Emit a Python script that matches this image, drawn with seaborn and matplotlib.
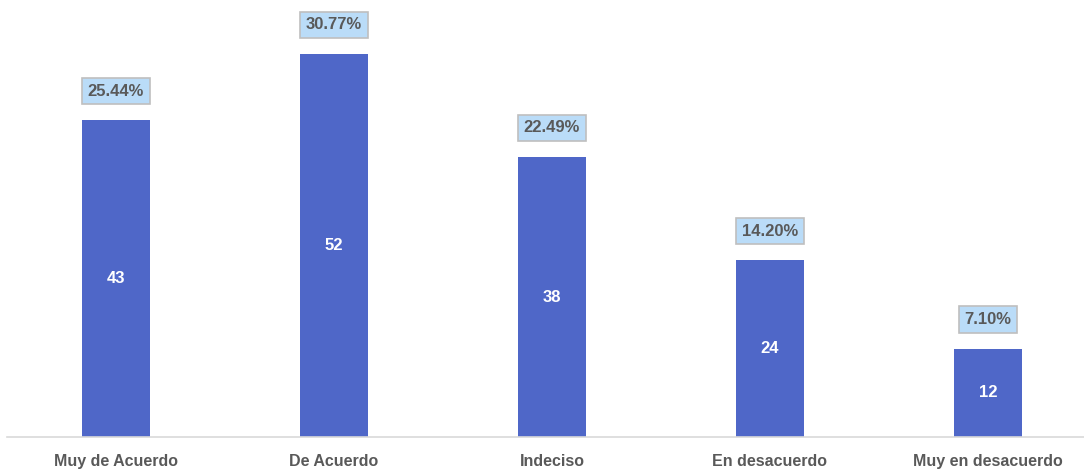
import matplotlib
matplotlib.use("Agg")
import matplotlib.pyplot as plt
import seaborn as sns
import pandas as pd

# === DANE ===
categorias = ["Muy de Acuerdo", "De Acuerdo", "Indeciso", "En desacuerdo", "Muy en desacuerdo"]
cantidades = [43, 52, 38, 24, 12]
porcentajes = ["25.44%", "30.77%", "22.49%", "14.20%", "7.10%"]

df = pd.DataFrame({"categoria": categorias, "cantidad": cantidades})

sns.set_style("white")
plt.rcParams["font.family"] = ["Liberation Sans", "DejaVu Sans"]

BAR = "#4F67C8"
GRIS = "#595959"

fig = plt.figure(figsize=(10.84, 4.72), dpi=100)
ax = fig.add_axes([7 / 1084, 35 / 472, 1 - 7 / 1084, 1 - 35 / 472])

sns.barplot(data=df, x="categoria", y="cantidad", color=BAR, width=0.312,
            saturation=1, linewidth=0, ax=ax)

ax.set_xlim(-0.5, (1084 - 116) / 218)
ax.set_ylim(0, 437 / 7.365)

for i, (v, p) in enumerate(zip(cantidades, porcentajes)):
    ax.text(i, v / 2, str(v), ha="center", va="center", color="white",
            fontsize=12, fontweight="bold")
    ax.annotate(p, (i, v), xytext=(0, 21), textcoords="offset points",
                ha="center", va="center", color=GRIS, fontsize=12,
                fontweight="bold",
                bbox=dict(boxstyle="square,pad=0.35", fc="#BADCF8",
                          ec="#BFBFBF", lw=1.2))

for s in ["top", "right", "left"]:
    ax.spines[s].set_visible(False)
ax.spines["bottom"].set_color("#D9D9D9")
ax.spines["bottom"].set_linewidth(1.2)
ax.set_yticks([])
ax.set_xlabel("")
ax.set_ylabel("")
ax.tick_params(axis="x", length=0, pad=12, labelsize=11.5, labelcolor=GRIS)
for t in ax.get_xticklabels():
    t.set_fontweight("bold")

fig.savefig("out.png", dpi=100)
